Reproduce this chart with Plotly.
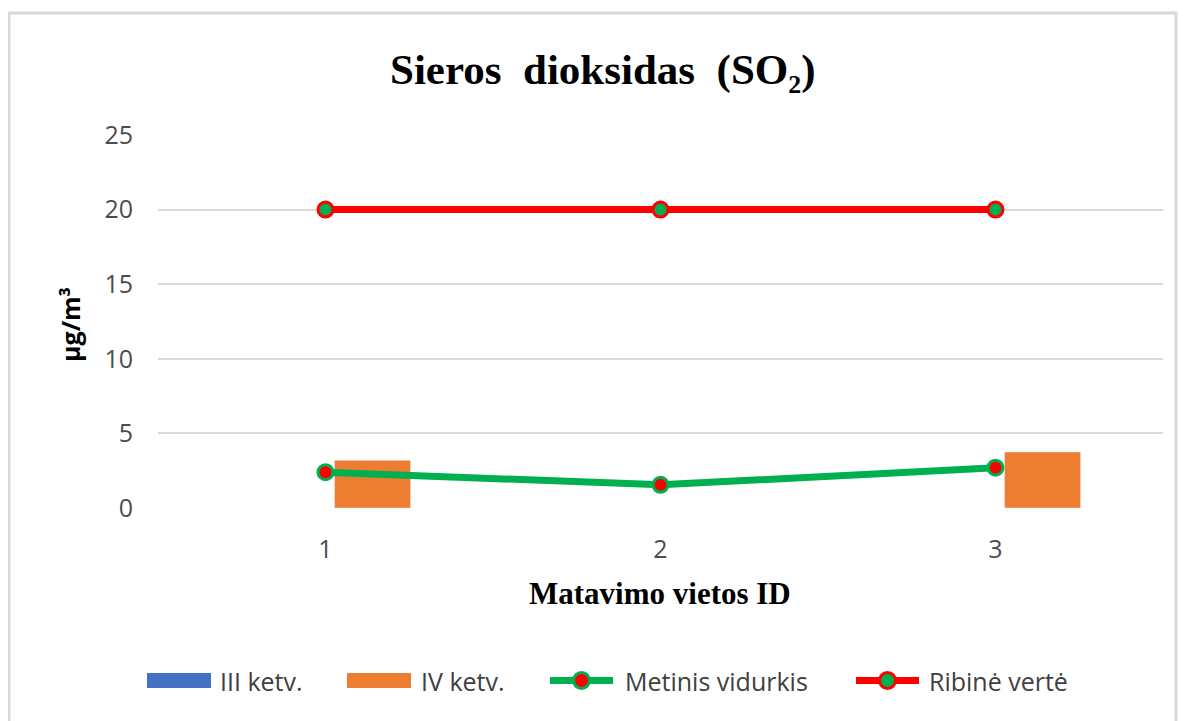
import plotly.graph_objects as go

categories = ["1", "2", "3"]
iii_ketv = [None, None, None]
iv_ketv = [3.2, None, 3.75]
metinis_vidurkis = [2.4, 1.55, 2.7]
ribine_verte = [20, 20, 20]
y_ticks = [0, 5, 10, 15, 20, 25]

TICK_FONT = dict(family="Open Sans", size=25, color="#4D4D4D")
LEG_FONT = dict(family="Open Sans", size=25, color="#404040")

fig = go.Figure()
fig.add_trace(go.Bar(x=categories, y=iii_ketv, name="III ketv.", marker_color="#4472C4",
                     width=0.227, offset=-0.2, showlegend=False))
fig.add_trace(go.Bar(x=categories, y=iv_ketv, name="IV ketv.", marker_color="#ED7D31",
                     width=0.227, offset=0.027, showlegend=False))
fig.add_trace(go.Scatter(x=categories, y=metinis_vidurkis, name="Metinis vidurkis", mode="lines+markers",
                         line=dict(color="#00B050", width=7),
                         marker=dict(size=15, color="#FF0000", line=dict(color="#00B050", width=3)),
                         showlegend=False))
fig.add_trace(go.Scatter(x=categories, y=ribine_verte, name="Ribinė vertė", mode="lines+markers",
                         line=dict(color="#FF0000", width=7),
                         marker=dict(size=15, color="#00B050", line=dict(color="#FF0000", width=3)),
                         showlegend=False))

# page offset of the figure div (body margin)
OFF = 8
PAGE_W, PAGE_H = 1189, 721
W, H = PAGE_W - OFF, PAGE_H - OFF
PL, PR, PT, PB = 158, 1163, 135, 508  # plot area in page coords
L, T = PL - OFF, PT - OFF
R = W - (PR - OFF)
B = H - (PB - OFF)
pw, ph = PR - PL, PB - PT

def px(x):
    return (x - PL) / pw

def py(y):
    return (PB - y) / ph

shapes = []
annotations = []
# chart border
shapes.append(dict(type="rect", xref="paper", yref="paper", x0=px(9), x1=px(1176), y0=py(13), y1=py(740),
                   line=dict(color="#D9D9D9", width=3), fillcolor="rgba(0,0,0,0)", layer="below"))

# manual legend
leg_y = 680.5
items = [
    ("bar", "#4472C4", None, 147, 211, 218, "III ketv."),
    ("bar", "#ED7D31", None, 347, 411, 419, "IV ketv."),
    ("line", "#00B050", "#FF0000", 547, 616, 623, "Metinis vidurkis"),
    ("line", "#FF0000", "#00B050", 853, 922, 927, "Ribinė vertė"),
]
for kind, c1, c2, x0, x1, tx, label in items:
    if kind == "bar":
        shapes.append(dict(type="rect", xref="paper", yref="paper", x0=px(x0), x1=px(x1),
                           y0=py(leg_y - 7.5), y1=py(leg_y + 7.5), fillcolor=c1, line=dict(width=0)))
    else:
        shapes.append(dict(type="line", xref="paper", yref="paper", x0=px(x0 + 3), x1=px(x1 - 3),
                           y0=py(leg_y), y1=py(leg_y), line=dict(color=c1, width=7)))
        cx = (x0 + x1) / 2
        r = 8
        shapes.append(dict(type="circle", xref="paper", yref="paper", x0=px(cx - r), x1=px(cx + r),
                           y0=py(leg_y + r), y1=py(leg_y - r), fillcolor=c2, line=dict(color=c1, width=3)))
    annotations.append(dict(text=label, xref="paper", yref="paper", x=px(tx), y=py(leg_y),
                            xanchor="left", yanchor="middle", showarrow=False, font=LEG_FONT))

# title and axis titles
annotations.append(dict(text="Sieros  dioksidas  (SO₂)", xref="paper", yref="paper", x=px(603), y=py(70),
                        xanchor="center", yanchor="middle", showarrow=False,
                        font=dict(family="Liberation Serif", size=43, color="#000000", weight="bold")))
annotations.append(dict(text="Matavimo vietos ID", xref="paper", yref="paper", x=px(660), y=py(593),
                        xanchor="center", yanchor="middle", showarrow=False,
                        font=dict(family="Liberation Serif", size=31, color="#000000", weight="bold")))
annotations.append(dict(text="µg/m³", xref="paper", yref="paper", x=px(70), y=py(325),
                        xanchor="center", yanchor="middle", showarrow=False, textangle=-90,
                        font=dict(family="Open Sans", size=25, color="#000000", weight="bold")))

fig.update_layout(
    width=W, height=H, autosize=False,
    margin=dict(l=L, r=R, t=T, b=B),
    paper_bgcolor="white", plot_bgcolor="white",
    barmode="group",
    shapes=shapes, annotations=annotations,
    showlegend=False,
)
fig.update_xaxes(type="category", showgrid=False, zeroline=False, showline=False, ticks="",
                 tickfont=TICK_FONT, ticklabelstandoff=24)
fig.update_yaxes(range=[0, 25], tickvals=y_ticks, showgrid=True, gridcolor="#D9D9D9", gridwidth=2,
                 zeroline=False, showline=False, ticks="", tickfont=TICK_FONT, ticklabelstandoff=24)

fig.write_html("out.html")
